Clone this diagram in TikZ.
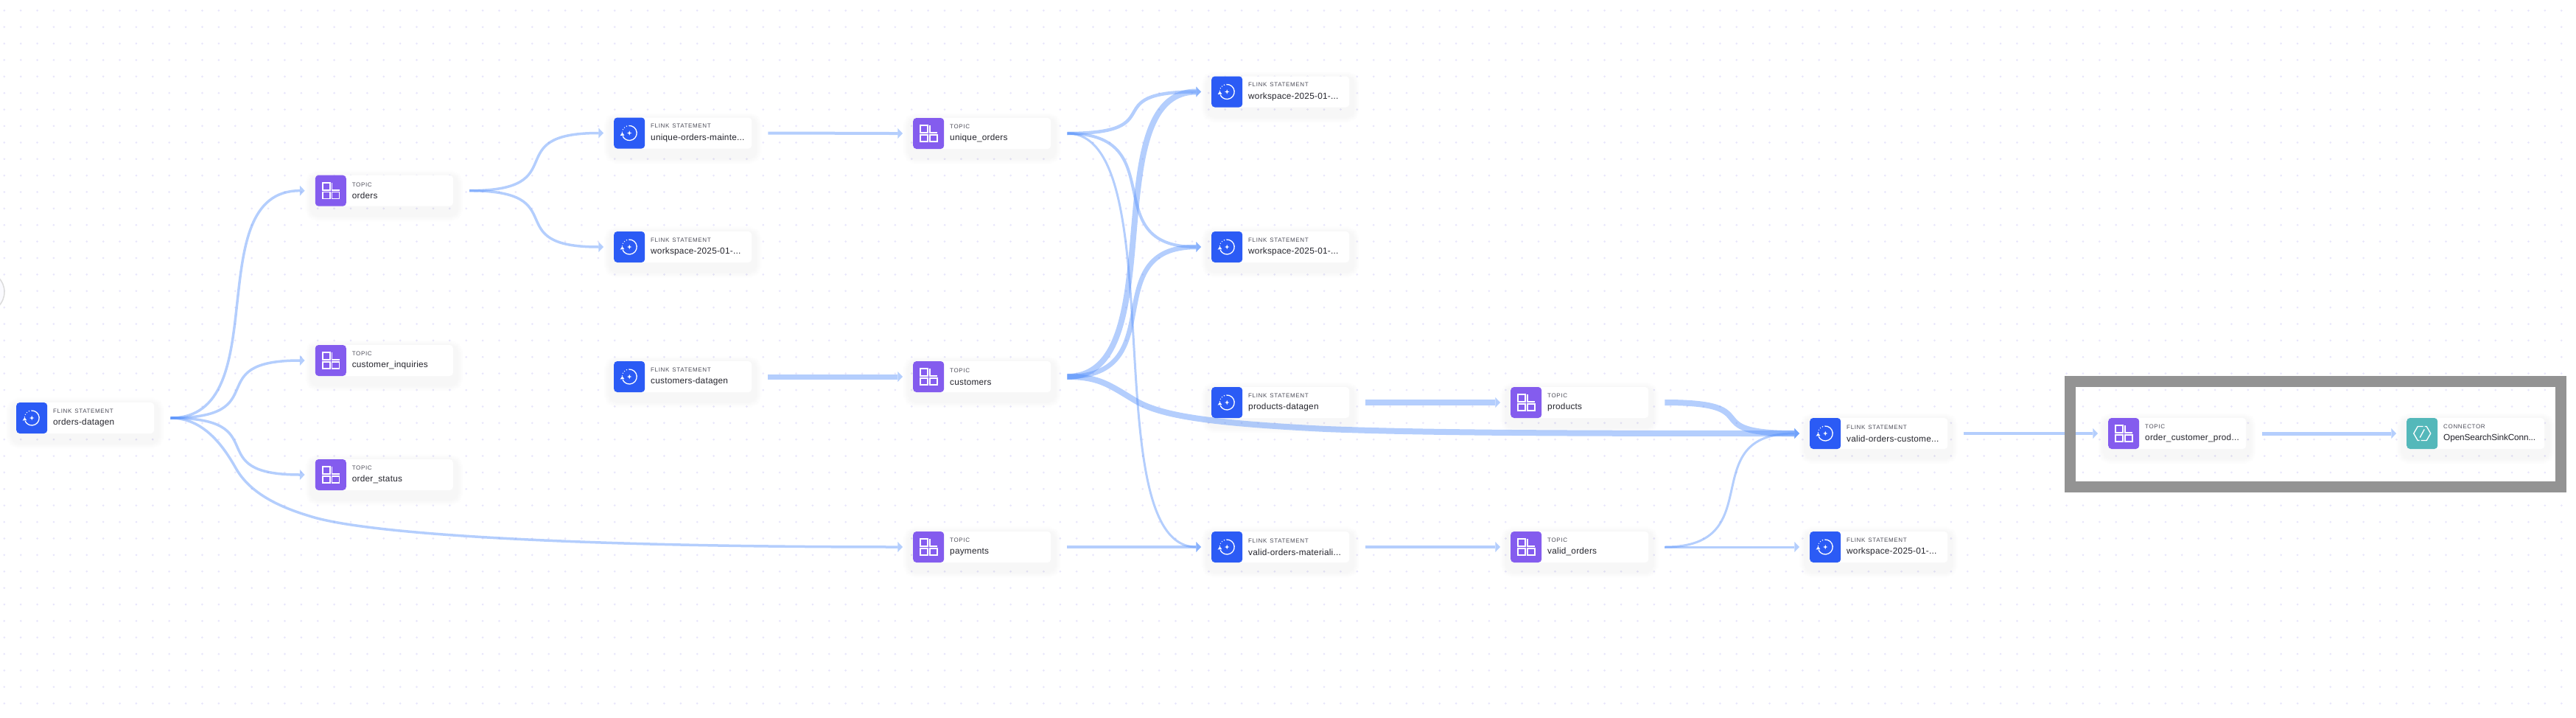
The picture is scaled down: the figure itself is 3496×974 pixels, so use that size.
\documentclass[tikz,border=0pt]{standalone}
\usepackage{fontspec}
\setmainfont{Liberation Sans}
\newfontfamily\kindfont[LetterSpace=8]{Liberation Sans}
\newfontfamily\namefont[LetterSpace=2]{Liberation Sans}
\usetikzlibrary{arrows.meta}
\definecolor{flinkblue}{HTML}{2B5BF5}
\definecolor{topicpurple}{HTML}{845CEE}
\definecolor{connteal}{HTML}{54B8BA}
\definecolor{flowblue}{RGB}{77,139,250}
\definecolor{griddot}{HTML}{E8E6FB}
\definecolor{framegray}{HTML}{939393}
\definecolor{kindgray}{HTML}{4C4C58}
\definecolor{namegray}{HTML}{24242C}
\newcommand{\kindname}[2]{\vspace*{2pt}\hspace*{50pt}{\kindfont\fontsize{8}{14pt}\selectfont\color{kindgray}#1}\\[.6pt]\hspace*{50pt}{\namefont\fontsize{11.8}{14pt}\selectfont\color{namegray}#2}}
\tikzset{
softshadow/.style={preaction={draw=black,opacity=.004,line width=#1,transform canvas={yshift=-7pt}}},
stagebox/.style={anchor=west,shape=rectangle,rounded corners=4.5pt,fill=white!98!griddot,inner sep=0pt,text width=187pt,minimum height=42pt,align=left,font=\fontsize{11.8}{14pt}\selectfont,softshadow=28pt,softshadow=26pt,softshadow=24pt,softshadow=22pt,softshadow=20pt,softshadow=18pt,softshadow=16pt,softshadow=14pt},
flinkbox/.style={stagebox,path picture={\fill[flinkblue] (path picture bounding box.south west) rectangle ++(42,-42); \pic at ([xshift=21]path picture bounding box.west) {flinkicon};}},
topicbox/.style={stagebox,path picture={\fill[topicpurple] (path picture bounding box.south west) rectangle ++(42,-42); \pic at ([xshift=21]path picture bounding box.west) {topicicon};}},
connectorbox/.style={stagebox,path picture={\fill[connteal] (path picture bounding box.south west) rectangle ++(42,-42); \pic at ([xshift=21]path picture bounding box.west) {connectoricon};}},
flinkicon/.pic={
\begin{scope}[y=1pt,sharp corners]
\draw[white,line width=1.3pt] (95:10) arc[start angle=95,end angle=-155,radius=10];
\fill[white] (-12.5,-3.5)--(-9.8,.8)--(-6.8,-3.2)--cycle;
\fill[white] (0,3.2)--(.8,.8)--(3.2,0)--(.8,-.8)--(0,-3.2)--(-.8,-.8)--(-3.2,0)--(-.8,.8)--cycle;
\foreach \ang/\rad in {112/.8,132/.75,152/.7,172/.65} \fill[white] (\ang:10) circle (\rad);
\end{scope}},
topicicon/.pic={
\begin{scope}[sharp corners,white,line width=1.5pt]
\draw (-11,-10.8) rectangle (-1,-.8);
\draw (1.8,-10.8)--(1.8,-.8)--(11.8,-.8);
\draw (-11,1.8) rectangle (-1,10.8);
\draw (1.8,1.8) rectangle (11.8,10.8);
\end{scope}},
connectoricon/.pic={
\begin{scope}[sharp corners,white,line width=1.3pt]
\draw (1.5,-9.5)--(-6,-9.5)--(-11.5,0)--(-6,9.5)--(-3.5,9.5);
\draw (-1.5,9.5)--(6,9.5)--(11.5,0)--(6,-9.5)--(3.5,-9.5);
\draw (3,-5.5)--(-3,5.5);
\end{scope}},
flow/.style={draw=flowblue,opacity=.42,line cap=butt,-{Triangle[length=6.7pt,width=14pt,line width=0pt]}}
}
\begin{document}
\begin{tikzpicture}[x=1pt,y=-1pt]
\useasboundingbox (0,0) rectangle (3496,974);
\foreach \i in {0,...,155} \foreach \j in {0,...,42} \fill[griddot] (5.8+\i*22.39,14.3+\j*22.38) circle (1.5);
\node[circle,draw=black!14,line width=1.5pt,fill=griddot!20,minimum size=56pt] (zoomctl) at (-22,396) {};
\node[flinkbox] (ordersdg) at (22,567) {\kindname{FLINK STATEMENT}{orders-datagen}};
\node[topicbox] (orders) at (427.6,258.7) {\kindname{TOPIC}{orders}};
\node[topicbox] (custinq) at (427.6,489) {\kindname{TOPIC}{customer\_inquiries}};
\node[topicbox] (ordstatus) at (427.6,644) {\kindname{TOPIC}{order\_status}};
\node[flinkbox] (uniquemaint) at (833,180.5) {\kindname{FLINK STATEMENT}{unique-orders-mainte...}};
\node[flinkbox] (wsa) at (833,335) {\kindname{FLINK STATEMENT}{workspace-2025-01-...}};
\node[flinkbox] (custdg) at (833,511) {\kindname{FLINK STATEMENT}{customers-datagen}};
\node[topicbox] (uniqueord) at (1239,181) {\kindname{TOPIC}{unique\_orders}};
\node[topicbox] (customers) at (1239,511) {\kindname{TOPIC}{customers}};
\node[topicbox] (payments) at (1239,742) {\kindname{TOPIC}{payments}};
\node[flinkbox] (wsb) at (1644,124.5) {\kindname{FLINK STATEMENT}{workspace-2025-01-...}};
\node[flinkbox] (wsc) at (1644,335) {\kindname{FLINK STATEMENT}{workspace-2025-01-...}};
\node[flinkbox] (prodsdg) at (1644,546) {\kindname{FLINK STATEMENT}{products-datagen}};
\node[flinkbox] (validmat) at (1644,742) {\kindname{FLINK STATEMENT}{valid-orders-materiali...}};
\node[topicbox] (products) at (2050,546) {\kindname{TOPIC}{products}};
\node[topicbox] (validord) at (2050,742) {\kindname{TOPIC}{valid\_orders}};
\node[flinkbox] (validcust) at (2456,588) {\kindname{FLINK STATEMENT}{valid-orders-custome...}};
\node[flinkbox] (wsd) at (2456,742) {\kindname{FLINK STATEMENT}{workspace-2025-01-...}};
\node[topicbox] (ordcust) at (2861,588) {\kindname{TOPIC}{order\_customer\_prod...}};
\node[connectorbox] (opensearch) at (3266,588) {\kindname{CONNECTOR}{\addfontfeature{LetterSpace=-1}OpenSearchSinkConn...}};
\foreach \src/\dst/\wd in {ordersdg/orders/3.5,ordersdg/custinq/3.5,ordersdg/ordstatus/3.5,orders/uniquemaint/3.5,orders/wsa/3.5,
uniquemaint/uniqueord/4,custdg/customers/7,uniqueord/wsb/4.5,uniqueord/wsc/4,uniqueord/validmat/3,customers/wsb/8,customers/wsc/6.5,
payments/validmat/4,prodsdg/products/8,validmat/validord/4.5,products/validcust/8,validord/validcust/3,validord/wsd/3,validcust/ordcust/4.5,ordcust/opensearch/5}
\draw[flow,line width=\wd pt] ([xshift=22]\src.east) .. controls +(145,0) and +(-145,0) .. ([xshift=-14]\dst.west);
\draw[flow,line width=3.5pt] ([xshift=22]ordersdg.east) .. controls +(45,0) and (303,605) .. (320,635) .. controls (337,665) and (370,685) .. (420,700) .. controls (500,726) and (800,742) .. ([xshift=-14]payments.west);
\draw[flow,line width=8pt] ([xshift=22]customers.east) .. controls +(43,0) and (1505,522) .. (1540,543) .. controls (1575,564) and (1640,574) .. (1800,582) .. controls (1950,588) and (2200,588) .. ([xshift=-14]validcust.west);
\node[draw=framegray,line width=15pt,inner sep=0pt,minimum width=666pt,minimum height=143pt] (highlight) at (3142,589) {};
\end{tikzpicture}
\end{document}
